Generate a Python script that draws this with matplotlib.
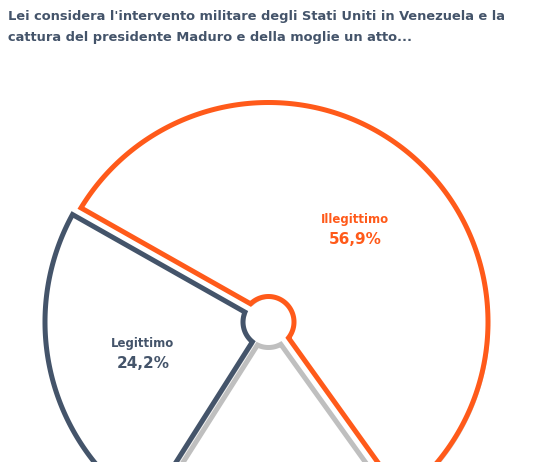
import numpy as np
import matplotlib.pyplot as plt
import matplotlib.patheffects as pe
from matplotlib.patches import Polygon

# Data (third slice is cut off at the bottom of the image)
categories = ["Illegittimo", "Non sa", "Legittimo"]
values = [56.9, 18.9, 24.2]
value_labels = ["56,9%", "18,9%", "24,2%"]
colors = ["#FF5A1A", "#BFBFBF", "#44546A"]
show_label = [True, False, True]

title = ("Lei considera l'intervento militare degli Stati Uniti in Venezuela e la\n"
         "cattura del presidente Maduro e della moglie un atto...")

W, H = 534, 462
fig = plt.figure(figsize=(W / 100, H / 100), dpi=100)
ax = fig.add_axes([0, 0, 1, 1])
ax.set_xlim(0, W)
ax.set_ylim(0, H)
ax.set_aspect("equal")
ax.axis("off")

# pie drawn in pixel coordinates, center sits low so the bottom is cropped
cx, cy = 268.5, H - 322
R = 226.5          # outer radius
hole = 25.5        # radius of the center hole (line center)
insets = [7.0, 3.0, 3.0]   # how far each slice outline is pulled in
START = 150.5


def slice_outline(a1, a2, d):
    # sector between angles a1 < a2 (degrees, ccw), shrunk by d on every side
    ro = R - d
    o1 = np.radians(a1) + np.arcsin(d / ro)
    o2 = np.radians(a2) - np.arcsin(d / ro)
    i1 = np.radians(a1) + np.arcsin(d / hole)
    i2 = np.radians(a2) - np.arcsin(d / hole)
    t_out = np.linspace(o1, o2, 200)
    t_in = np.linspace(i2, i1, 60)
    xs = np.concatenate([cx + ro * np.cos(t_out), cx + hole * np.cos(t_in)])
    ys = np.concatenate([cy + ro * np.sin(t_out), cy + hole * np.sin(t_in)])
    return np.column_stack([xs, ys])


total = sum(values)
angle = START
for v, c, d in zip(values, colors, insets):
    span = v / total * 360
    a2, a1 = angle, angle - span
    angle = a1
    poly = Polygon(slice_outline(a1, a2, d), closed=True, facecolor="white",
                   edgecolor=c, linewidth=3.6, joinstyle="miter")
    poly.set_path_effects([pe.SimplePatchShadow(offset=(1.5, -1.5), shadow_rgbFace="#9a9a9a", alpha=0.45),
                           pe.Normal()])
    ax.add_patch(poly)

# slice labels
label_pos = {0: (355, H - 220), 2: (143, H - 344)}
for i, (name, val, c) in enumerate(zip(categories, value_labels, colors)):
    if not show_label[i]:
        continue
    x, y = label_pos[i]
    ax.text(x, y, name, color=c, fontsize=8.5, fontweight="bold",
            ha="center", va="center")
    ax.text(x, y - 20, val, color=c, fontsize=11, fontweight="bold",
            ha="center", va="center")

fig.text(8 / W, 1 - 10 / H, title, color="#44546A", fontsize=9.4, fontweight="bold",
         ha="left", va="top", linespacing=1.8)

fig.savefig("out.png", dpi=100)
